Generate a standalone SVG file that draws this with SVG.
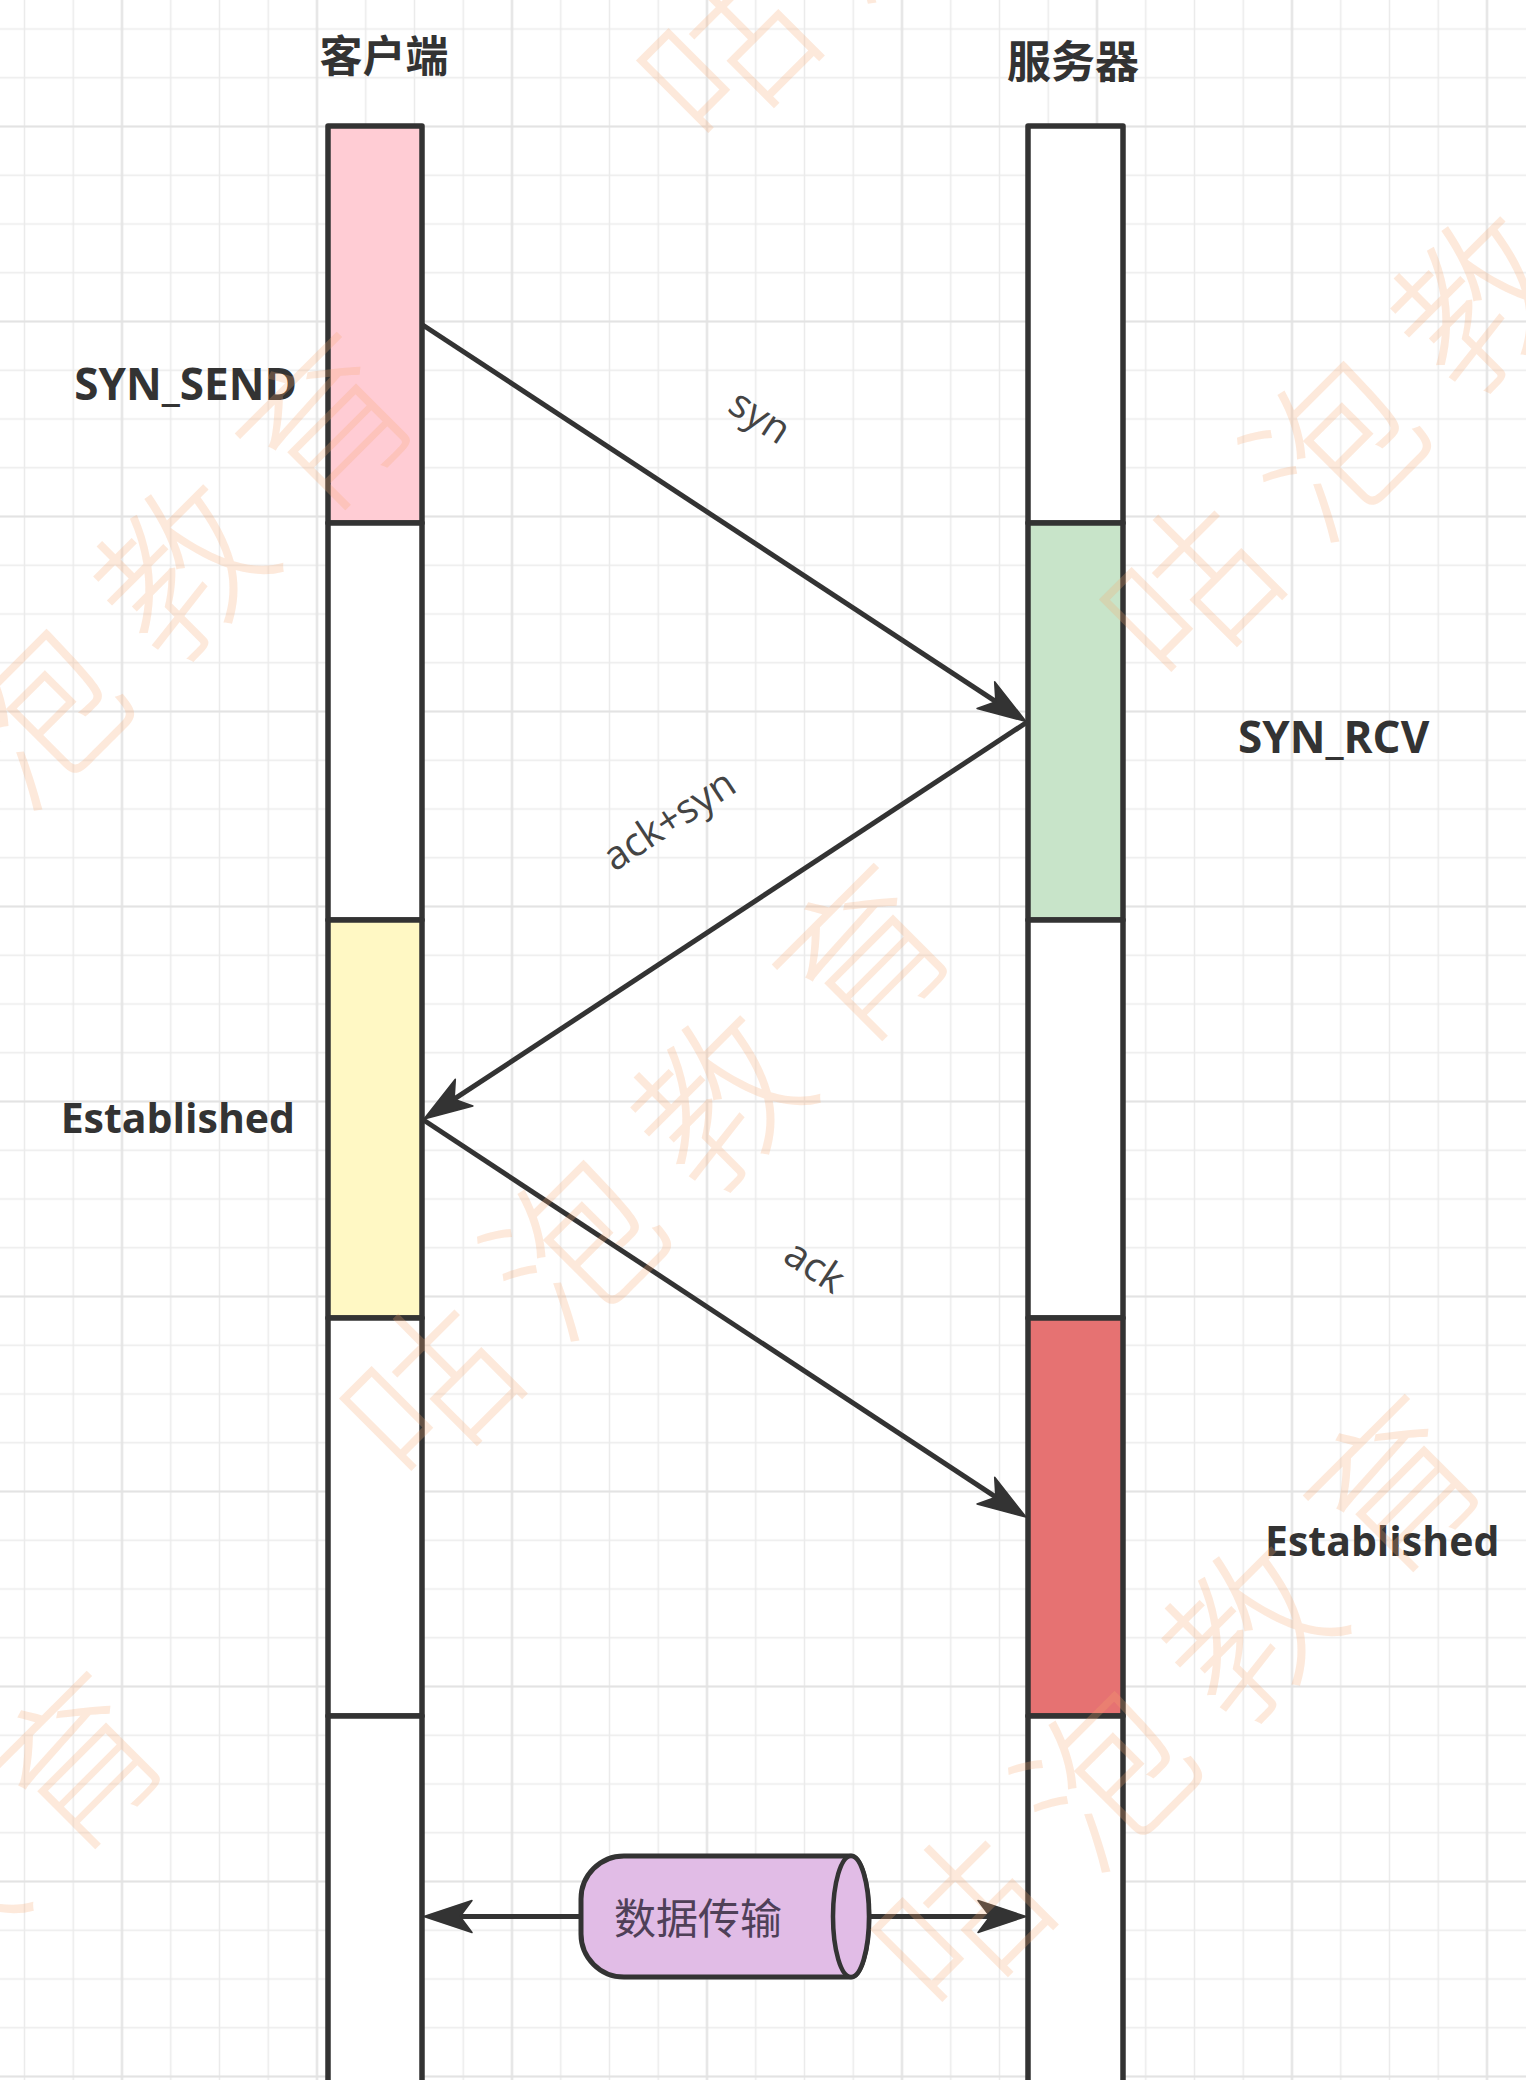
<svg xmlns="http://www.w3.org/2000/svg" width="1526" height="2080" viewBox="0 0 1526 2080">
<defs>
<style>
.seg{stroke:#333333;stroke-width:5.5;stroke-linejoin:round}
.conn{stroke:#333333;stroke-width:5;fill:none}
.hdr{font-family:"Noto Sans CJK SC","Noto Sans",sans-serif;font-weight:bold;font-size:43px;fill:#333333;text-anchor:middle}
.state{font-family:"Open Sans","Noto Sans",sans-serif;font-weight:bold;font-size:42px;fill:#333333}
.lbl{font-family:"Open Sans","Noto Sans",sans-serif;font-size:40px;fill:#444444;text-anchor:middle}
.wm{font-family:"Noto Sans CJK SC",sans-serif;font-weight:200;font-size:165px;letter-spacing:40px;fill:#f8a86e;fill-opacity:0.25;text-anchor:middle}
</style>
<pattern id="gMinor" patternUnits="userSpaceOnUse" x="0.125" y="4.625" width="48.75" height="48.75">
<path d="M24.375 0V48.75M0 24.375H48.75" stroke="#ebebeb" stroke-width="1.5" fill="none"/>
</pattern>
<pattern id="gMajor" patternUnits="userSpaceOnUse" x="24.5" y="29" width="195" height="195">
<path d="M97.5 0V195M0 97.5H195" stroke="#e3e3e3" stroke-width="2" fill="none"/>
</pattern>
<marker id="arr" markerUnits="userSpaceOnUse" viewBox="-14 -18 52 36" markerWidth="52" markerHeight="36" refX="0" refY="0" orient="auto">
<path d="M36 0L-12 -16L0 0L-12 16Z" fill="#333333" stroke="#333333" stroke-width="1.5" stroke-linejoin="round"/>
</marker>
</defs>
<rect width="1526" height="2080" fill="#ffffff"/>
<rect width="1526" height="2080" fill="url(#gMinor)"/>
<rect width="1526" height="2080" fill="url(#gMajor)"/>

<g id="client-header"><text class="hdr" x="384" y="72">客户端</text></g>
<g id="server-header"><text class="hdr" x="1073" y="78" style="font-size:44px">服务器</text></g>

<g id="client-lane">
<rect id="c1" class="seg" x="328" y="126" width="94" height="397" fill="#FFCCD4"/>
<rect id="c2" class="seg" x="328" y="523" width="94" height="397" fill="#FFFFFF"/>
<rect id="c3" class="seg" x="328" y="920" width="94" height="398" fill="#FFF8C4"/>
<rect id="c4" class="seg" x="328" y="1318" width="94" height="398" fill="#FFFFFF"/>
<rect id="c5" class="seg" x="328" y="1716" width="94" height="400" fill="#FFFFFF"/>
</g>
<g id="server-lane">
<rect id="s1" class="seg" x="1028" y="126" width="95" height="397" fill="#FFFFFF"/>
<rect id="s2" class="seg" x="1028" y="523" width="95" height="397" fill="#C8E4C9"/>
<rect id="s3" class="seg" x="1028" y="920" width="95" height="398" fill="#FFFFFF"/>
<rect id="s4" class="seg" x="1028" y="1318" width="95" height="398" fill="#E67272"/>
<rect id="s5" class="seg" x="1028" y="1716" width="95" height="400" fill="#FFFFFF"/>
</g>

<g id="state-labels">
<text id="syn-send" class="state" x="297" y="400" text-anchor="end" style="font-size:44px">SYN_SEND</text>
<text id="syn-rcv" class="state" x="1238" y="753" style="font-size:44px">SYN_RCV</text>
<text id="est-client" class="state" x="295" y="1133" text-anchor="end" style="font-size:41px">Established</text>
<text id="est-server" class="state" x="1265" y="1556" style="font-size:41px">Established</text>
</g>

<g id="data-transfer">
<path d="M624 1856H851A18 60.5 0 0 1 851 1977H624A43 43 0 0 1 581 1934V1899A43 43 0 0 1 624 1856Z" fill="#E1BCE6" stroke="#333333" stroke-width="5"/>
<ellipse cx="851" cy="1916.5" rx="18" ry="60.5" fill="#E1BCE6" stroke="#333333" stroke-width="4.5"/>
<text x="698" y="1934" style="font-family:'Noto Sans CJK SC',sans-serif;font-size:42px;fill:#4f4058;text-anchor:middle">数据传输</text>
</g>

<g id="connectors">
<line class="conn" x1="422" y1="324.5" x2="995.9" y2="701.7" marker-end="url(#arr)"/>
<line class="conn" x1="1028" y1="721.5" x2="454.1" y2="1099.2" marker-end="url(#arr)"/>
<line class="conn" x1="422" y1="1119" x2="995.9" y2="1497.2" marker-end="url(#arr)"/>
<line class="conn" x1="581" y1="1916.5" x2="460" y2="1916.5" marker-end="url(#arr)"/>
<line class="conn" x1="869" y1="1916.5" x2="990" y2="1916.5" marker-end="url(#arr)"/>
<text class="lbl" transform="translate(756 423) rotate(33.3)" y="6">syn</text>
<text class="lbl" transform="translate(671 823) rotate(-33.3)" y="10">ack+syn</text>
<text class="lbl" transform="translate(815 1266) rotate(33.3)" y="14">ack</text>
</g>

<g id="watermark">
<text class="wm" transform="translate(126 630) rotate(-45)" y="58">咕泡教育</text>
<text class="wm" transform="translate(663 1161) rotate(-45)" y="58">咕泡教育</text>
<text class="wm" transform="translate(1194 1692) rotate(-45)" y="58">咕泡教育</text>
<text class="wm" transform="translate(1423 362) rotate(-45)" y="58">咕泡教育</text>
<text class="wm" transform="translate(960 -177) rotate(-45)" y="58">咕泡教育</text>
<text class="wm" transform="translate(-124 1969) rotate(-45)" y="58">咕泡教育</text>
</g>
</svg>
